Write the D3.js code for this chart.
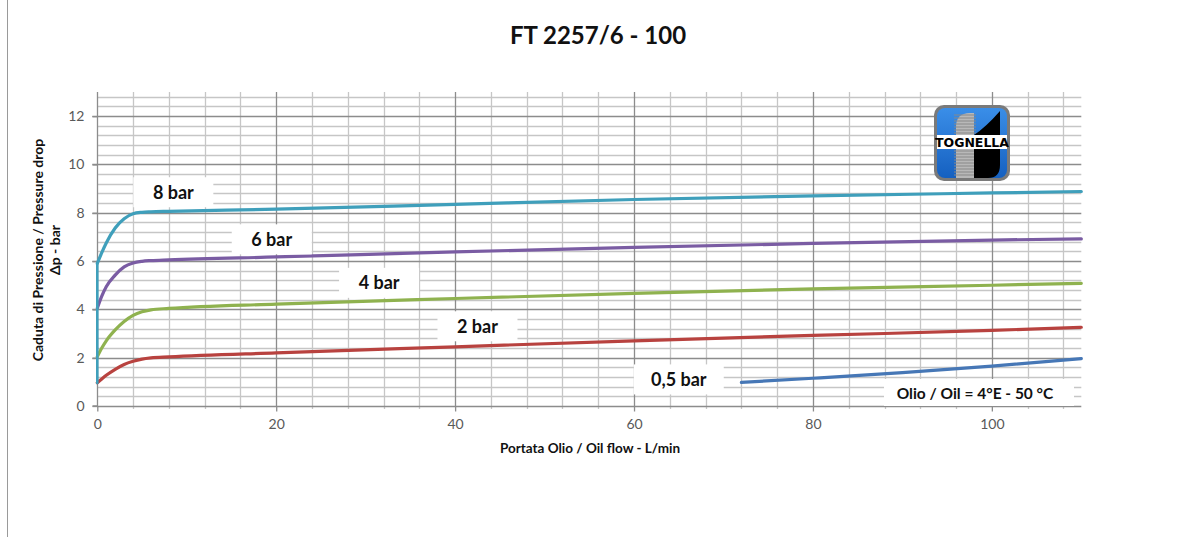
<!DOCTYPE html>
<html>
<head>
<meta charset="utf-8">
<script src="https://cdn.jsdelivr.net/npm/d3@7"></script>
<style>
  body { margin: 0; background: #fff; }
  text { font-family: Lato, "Liberation Sans", sans-serif; }
</style>
</head>
<body>
<svg id="chart" width="1191" height="537"></svg>
<script>
// flow values (L/min) and pressure drop (bar)
const bar8X = [0, 0.5, 1, 2, 3, 4, 5, 6, 8, 20, 40, 60, 80, 100, 110]
const bar8Y = [5.9, 6.35, 6.75, 7.37, 7.75, 7.96, 8.02, 8.04, 8.06, 8.15, 8.35, 8.55, 8.7, 8.82, 8.88]
const bar8Stem = [0.95, 5.9] // vertical part on the y axis at flow 0

const bar6X = [0, 0.5, 1, 2, 3, 4, 5, 6, 8, 20, 40, 60, 80, 100, 110]
const bar6Y = [4.05, 4.55, 4.94, 5.42, 5.76, 5.92, 5.99, 6.02, 6.05, 6.17, 6.38, 6.57, 6.73, 6.87, 6.92]

const bar4X = [0, 0.5, 1, 2, 3, 4, 5, 6, 8, 20, 40, 60, 80, 100, 110]
const bar4Y = [2.04, 2.4, 2.7, 3.15, 3.5, 3.75, 3.9, 3.98, 4.04, 4.22, 4.45, 4.66, 4.85, 5.0, 5.08]

const bar2X = [0, 0.5, 1, 2, 3, 4, 5, 6, 8, 20, 40, 60, 80, 100, 110]
const bar2Y = [0.96, 1.12, 1.27, 1.52, 1.72, 1.85, 1.94, 1.99, 2.03, 2.2, 2.45, 2.7, 2.92, 3.13, 3.26]

const bar05X = [72, 80, 90, 100, 110]
const bar05Y = [0.98, 1.15, 1.38, 1.65, 1.96]

const xTicks = [0, 20, 40, 60, 80, 100]
const yTicks = [0, 2, 4, 6, 8, 10, 12]

const seriesNames = ['8 bar', '6 bar', '4 bar', '2 bar', '0,5 bar']
const seriesColors = ['#3f9fbb', '#7a5ca3', '#8fb24f', '#b8423f', '#4677b6']
// label anchor in data units
const labelX = [8.5, 19.5, 31.5, 42.5, 65]
const labelY = [8.85, 6.9, 5.1, 3.3, 1.1]

const title = 'FT 2257/6 - 100'
const xTitle = 'Portata Olio / Oil flow -  L/min'
const yTitle1 = 'Caduta di Pressione / Pressure drop'
const yTitle2 = 'Δp - bar'
const oilNote = 'Olio / Oil = 4°E - 50 °C'

const svg = d3.select('#chart')

const x = d3.scaleLinear().domain([0, 110]).range([97.3, 1081.3])
const y = d3.scaleLinear().domain([0, 13]).range([406, 92])

// outer frame line on the left
svg.append('line').attr('x1', 7.5).attr('x2', 7.5).attr('y1', 0).attr('y2', 537)
  .attr('stroke', '#9a9a9a').attr('stroke-width', 1)

// grid
const grid = svg.append('g')
grid.selectAll('line.hmin').data(d3.range(0.4, 13, 0.4).filter(v => Math.abs(v / 2 - Math.round(v / 2)) > 0.01))
  .join('line')
  .attr('x1', x(0)).attr('x2', x(110))
  .attr('y1', d => Math.round(y(d)) + 0.5).attr('y2', d => Math.round(y(d)) + 0.5)
  .attr('stroke', '#c6c6c6').attr('stroke-width', 1.3)
grid.selectAll('line.vmin').data(d3.range(4, 110, 4).filter(v => v % 20 !== 0))
  .join('line')
  .attr('x1', d => Math.round(x(d)) + 0.5).attr('x2', d => Math.round(x(d)) + 0.5)
  .attr('y1', y(13)).attr('y2', y(0) + 3)
  .attr('stroke', '#c6c6c6').attr('stroke-width', 1.3)
grid.selectAll('line.hmaj').data(yTicks.slice(1))
  .join('line')
  .attr('x1', x(0) - 5).attr('x2', x(110))
  .attr('y1', d => Math.round(y(d)) + 0.5).attr('y2', d => Math.round(y(d)) + 0.5)
  .attr('stroke', '#8c8c8c').attr('stroke-width', 1.3)
grid.selectAll('line.vmaj').data(xTicks.slice(1))
  .join('line')
  .attr('x1', d => Math.round(x(d)) + 0.5).attr('x2', d => Math.round(x(d)) + 0.5)
  .attr('y1', y(13)).attr('y2', y(0))
  .attr('stroke', '#8c8c8c').attr('stroke-width', 1.3)

// axes
const xAxis = svg.append('g').attr('transform', `translate(0,${Math.round(y(0)) + 0.5})`)
  .call(d3.axisBottom(x).tickValues(xTicks).tickSize(5).tickPadding(8))
const yAxis = svg.append('g').attr('transform', `translate(${Math.round(x(0)) + 0.5},0)`)
  .call(d3.axisLeft(y).tickValues(yTicks).tickSize(5).tickPadding(8))
for (const ax of [xAxis, yAxis]) {
  ax.select('.domain').attr('stroke', '#8c8c8c').attr('stroke-width', 1.3)
  ax.selectAll('.tick line').attr('stroke', '#8c8c8c').attr('stroke-width', 1.3)
  ax.selectAll('.tick text').attr('fill', '#595959').attr('font-size', 14)
    .style('font-family', 'Lato, sans-serif')
}
yAxis.select('.domain').attr('d', `M-5,${y(0)}H0V${y(13)}`)
xAxis.select('.domain').attr('d', `M${Math.round(x(0))},0H${x(110)}`)

// curves
const line = d3.line().x(d => x(d[0])).y(d => y(d[1])).curve(d3.curveMonotoneX)
const allX = [bar8X, bar6X, bar4X, bar2X, bar05X]
const allY = [bar8Y, bar6Y, bar4Y, bar2Y, bar05Y]
const curves = svg.append('g').attr('fill', 'none').attr('stroke-width', 3.2)
  .attr('stroke-linecap', 'round')
allX.forEach((xs, i) => {
  const pts = xs.map((v, j) => [v, allY[i][j]])
  curves.append('path').attr('d', line(pts)).attr('stroke', seriesColors[i])
})
curves.append('path')
  .attr('d', d3.line()(bar8Stem.map(v => [x(0), y(v)])))
  .attr('stroke', seriesColors[0]).attr('stroke-width', 2.6)

// series labels in white boxes
const labels = svg.append('g')
seriesNames.forEach((name, i) => {
  const cx = x(labelX[i]), cy = y(labelY[i])
  const w = name.length > 5 ? 90 : 80
  labels.append('rect').attr('x', cx - w / 2).attr('y', cy - 15).attr('width', w).attr('height', 30)
    .attr('fill', '#fff')
  labels.append('text').attr('x', cx).attr('y', cy).attr('dy', '0.36em')
    .attr('text-anchor', 'middle').attr('font-size', 18).attr('font-weight', 700)
    .attr('fill', '#111').text(name)
})

// oil note
labels.append('rect').attr('x', 884).attr('y', 379).attr('width', 190).attr('height', 27).attr('fill', '#fff')
labels.append('text').attr('x', 975).attr('y', 393).attr('dy', '0.36em')
  .attr('text-anchor', 'middle').attr('font-size', 15.5).attr('font-weight', 700)
  .attr('fill', '#111').text(oilNote)

// titles
svg.append('text').attr('x', 598).attr('y', 44).attr('text-anchor', 'middle')
  .attr('font-size', 24).attr('font-weight', 700).attr('fill', '#111').text(title)
svg.append('text').attr('x', 590).attr('y', 453).attr('text-anchor', 'middle')
  .attr('font-size', 13.5).attr('font-weight', 700).attr('fill', '#111').text(xTitle)
svg.append('text').attr('transform', 'translate(43,250) rotate(-90)').attr('text-anchor', 'middle')
  .attr('font-size', 14).attr('font-weight', 700).attr('fill', '#111').text(yTitle1)
svg.append('text').attr('transform', 'translate(60,250) rotate(-90)').attr('text-anchor', 'middle')
  .attr('font-size', 14).attr('font-weight', 700).attr('fill', '#111').text(yTitle2)

// logo
const logo = svg.append('g').attr('transform', 'translate(934,105)')
const defs = svg.append('defs')
const grad = defs.append('linearGradient').attr('id', 'lg').attr('x1', 0).attr('y1', 0).attr('x2', 0).attr('y2', 1)
grad.append('stop').attr('offset', 0).attr('stop-color', '#3a8ee8')
grad.append('stop').attr('offset', 1).attr('stop-color', '#1560c0')
defs.append('clipPath').attr('id', 'lc').append('rect')
  .attr('x', 3).attr('y', 3).attr('width', 70).attr('height', 70).attr('rx', 8)
logo.append('rect').attr('width', 76).attr('height', 76).attr('rx', 10).attr('fill', '#7a7a7a')
logo.append('rect').attr('x', 3).attr('y', 3).attr('width', 70).attr('height', 70).attr('rx', 8)
  .attr('fill', 'url(#lg)')
const inner = logo.append('g').attr('clip-path', 'url(#lc)')
inner.append('path').attr('d', 'M22,73 V22 Q22,8 36,8 H40 V73 Z').attr('fill', '#b8b8b8')
inner.selectAll('line.st').data(d3.range(10, 73, 3)).join('line')
  .attr('x1', 20).attr('x2', 42).attr('y1', d => d).attr('y2', d => d)
  .attr('stroke', '#888').attr('stroke-width', 1)
inner.append('path').attr('d', 'M40,73 V30 Q52,22 66,6 V60 Q66,73 54,73 Z').attr('fill', '#000')
inner.append('rect').attr('x', 0).attr('y', 30).attr('width', 76).attr('height', 14).attr('fill', '#fff')
logo.append('text').attr('x', 38).attr('y', 42).attr('text-anchor', 'middle')
  .attr('font-size', 13).attr('font-weight', 700).attr('fill', '#000')
  .style('font-family', '"Liberation Sans Narrow", "DejaVu Sans Condensed", sans-serif')
  .attr('textLength', 74).attr('lengthAdjust', 'spacingAndGlyphs').text('TOGNELLA')
</script>
</body>
</html>
